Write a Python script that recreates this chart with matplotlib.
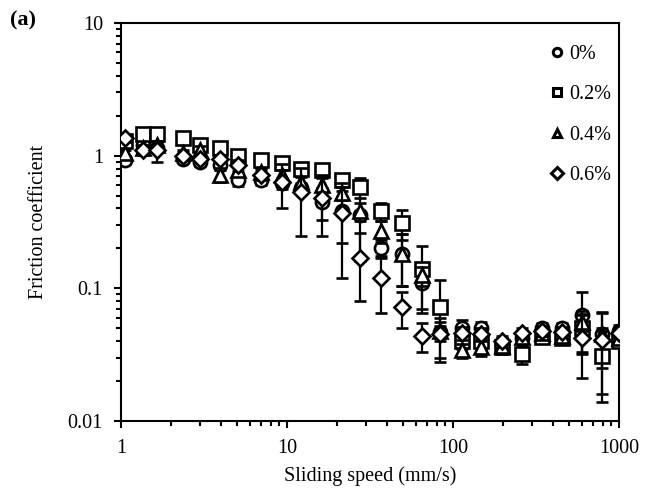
import numpy as np
import matplotlib
matplotlib.use("Agg")
import matplotlib.pyplot as plt
from matplotlib.lines import Line2D
from matplotlib.ticker import LogLocator, FixedLocator, FixedFormatter, NullFormatter

plt.rcParams['font.family'] = ['Liberation Serif', 'DejaVu Serif']

# sliding speed (mm/s)
speed = [1.05, 1.35, 1.65, 2.35, 3.0, 3.95, 5.1, 7.0, 9.3, 12.1, 16.2, 21.4, 27.5,
         37, 49, 65, 84, 113, 148, 196, 260, 343, 452, 598, 790, 1000]

# friction coefficient, one list per concentration
mu_0 = [0.93, 1.2, 1.15, 0.95, 0.9, 0.85, 0.65, 0.66, 0.62, 0.57, 0.45, 0.38, 0.36,
        0.2, 0.18, 0.11, 0.047, 0.05, 0.05, 0.038, 0.042, 0.05, 0.05, 0.063, 0.045, 0.048]
mu_02 = [1.3, 1.45, 1.45, 1.35, 1.2, 1.15, 1.0, 0.92, 0.88, 0.8, 0.78, 0.66, 0.58,
         0.38, 0.31, 0.14, 0.072, 0.04, 0.04, 0.036, 0.032, 0.043, 0.042, 0.05, 0.031, 0.04]
mu_04 = [1.05, 1.15, 1.2, 1.05, 1.1, 0.72, 0.78, 0.75, 0.72, 0.63, 0.6, 0.52, 0.38,
         0.27, 0.18, 0.125, 0.048, 0.034, 0.036, 0.037, 0.043, 0.046, 0.044, 0.056, 0.045, 0.042]
mu_06 = [1.35, 1.1, 1.1, 1.0, 0.95, 0.95, 0.85, 0.72, 0.63, 0.53, 0.48, 0.37, 0.17,
         0.12, 0.072, 0.044, 0.045, 0.046, 0.045, 0.04, 0.046, 0.048, 0.047, 0.042, 0.041, 0.046]

# standard deviations
sd_0 = [0.06, 0.08, 0.08, 0.06, 0.07, 0.07, 0.06, 0.06, 0.06, 0.05, 0.12, 0.16, 0.2,
        0.03, 0.075, 0.045, 0.005, 0.008, 0.006, 0.004, 0.004, 0.005, 0.005, 0.031, 0.005, 0.005]
sd_02 = [0.08, 0.08, 0.08, 0.08, 0.1, 0.1, 0.08, 0.06, 0.06, 0.07, 0.08, 0.06, 0.1,
         0.06, 0.08, 0.07, 0.044, 0.005, 0.004, 0.004, 0.005, 0.004, 0.004, 0.017, 0.017, 0.004]
sd_04 = [0.06, 0.06, 0.08, 0.06, 0.08, 0.09, 0.08, 0.06, 0.06, 0.06, 0.08, 0.06, 0.06,
         0.05, 0.075, 0.02, 0.008, 0.004, 0.005, 0.004, 0.004, 0.004, 0.004, 0.008, 0.02, 0.004]
sd_06 = [0.08, 0.08, 0.2, 0.06, 0.06, 0.06, 0.08, 0.06, 0.23, 0.28, 0.23, 0.25, 0.09,
         0.055, 0.022, 0.011, 0.015, 0.005, 0.005, 0.004, 0.004, 0.004, 0.004, 0.021, 0.025, 0.004]

labels = ["0%", "0.2%", "0.4%", "0.6%"]
series = [mu_0, mu_02, mu_04, mu_06]
errors = [sd_0, sd_02, sd_04, sd_06]
markers = ["o", "s", "^", "D"]
sizes = [9.5, 10.5, 9.5, 8]

fig = plt.figure(figsize=(6.46, 4.92), dpi=100)
ax = fig.add_axes([121 / 646, 1 - 421 / 492, (619 - 121) / 646, (421 - 23) / 492])

for i in range(4):
    ax.errorbar(speed, series[i], yerr=errors[i], fmt=markers[i], ms=sizes[i],
                mfc="white", mec="black", mew=1.9, ecolor="black", elinewidth=1.6,
                capsize=4.5, capthick=1.6, zorder=2 + i)

ax.set_xscale("log")
ax.set_yscale("log")
ax.set_xlim(1, 1000)
ax.set_ylim(0.01, 10)

ax.xaxis.set_major_locator(FixedLocator([1, 10, 100, 1000]))
ax.xaxis.set_major_formatter(FixedFormatter(["1", "10", "100", "1000"]))
ax.yaxis.set_major_locator(FixedLocator([0.01, 0.1, 1, 10]))
ax.yaxis.set_major_formatter(FixedFormatter(["0.01", "0.1", "1", "10"]))
ax.xaxis.set_minor_locator(LogLocator(base=10, subs=np.arange(2, 10)))
ax.yaxis.set_minor_locator(LogLocator(base=10, subs=np.arange(2, 10)))
ax.xaxis.set_minor_formatter(NullFormatter())
ax.yaxis.set_minor_formatter(NullFormatter())

ax.tick_params(which="major", direction="out", length=5, width=1.5, labelsize=14.5, pad=8)
ax.tick_params(which="minor", direction="out", length=3.5, width=1.5)
for s in ax.spines.values():
    s.set_linewidth(1.5)

ax.set_xlabel("Sliding speed (mm/s)", fontsize=14.5, labelpad=6)
ax.set_ylabel("Friction coefficient", fontsize=14.5, labelpad=14)

# legend shows the markers only
handles = [Line2D([], [], linestyle="none", marker=m, ms=6, mfc="white", mec="black", mew=2.2)
           for m in markers]
ax.legend(handles, labels, loc="upper right", frameon=False, fontsize=14.5,
          handletextpad=0.1, labelspacing=1.05, handlelength=1.0,
          borderaxespad=0.5, bbox_to_anchor=(1.02, 0.99))

fig.text(10 / 646, 1 - 20 / 492, "(a)", fontsize=16, fontweight="bold", va="center")

fig.savefig("out.png", dpi=100)
